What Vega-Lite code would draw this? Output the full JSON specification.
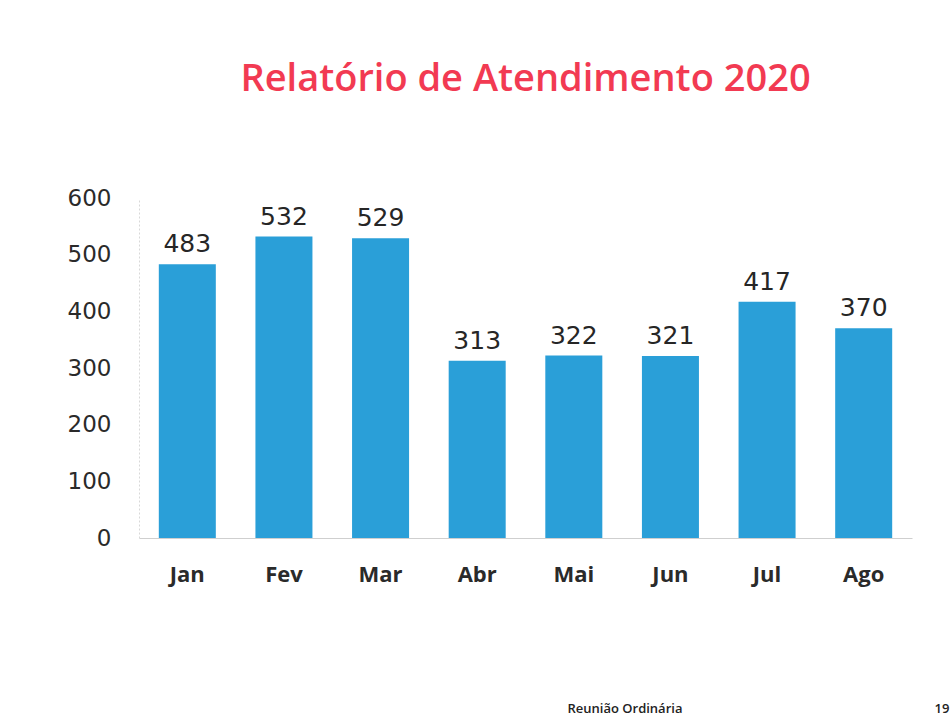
{
  "$schema": "https://vega.github.io/schema/vega-lite/v6.json",
  "autosize": "none",
  "width": 773,
  "height": 340,
  "padding": {"left": 139, "top": 198, "right": 40, "bottom": 188},
  "background": "#ffffff",
  "title": {
    "text": "Relatório de Atendimento 2020",
    "font": "Open Sans",
    "fontSize": 38,
    "fontWeight": 600,
    "color": "#f23a52",
    "anchor": "middle",
    "offset": 88
  },
  "data": {
    "values": [
      {"mes": "Jan", "valor": 483},
      {"mes": "Fev", "valor": 532},
      {"mes": "Mar", "valor": 529},
      {"mes": "Abr", "valor": 313},
      {"mes": "Mai", "valor": 322},
      {"mes": "Jun", "valor": 321},
      {"mes": "Jul", "valor": 417},
      {"mes": "Ago", "valor": 370}
    ]
  },
  "config": {"view": {"stroke": null}},
  "encoding": {
    "x": {
      "field": "mes",
      "type": "nominal",
      "sort": null,
      "scale": {"paddingInner": 0.41, "paddingOuter": 0.205},
      "axis": {
        "title": "Reunião Ordinária",
        "titleFont": "Open Sans",
        "titleFontSize": 13,
        "titleFontWeight": 600,
        "titleColor": "#222222",
        "titleAnchor": "start",
        "titleAlign": "left",
        "titleBaseline": "alphabetic",
        "titleX": 428,
        "titleY": 174,
        "labelAngle": 0,
        "labelFont": "Open Sans",
        "labelFontSize": 22,
        "labelFontWeight": "bold",
        "labelColor": "#2a2a2a",
        "labelPadding": 26,
        "ticks": false,
        "tickSize": 0,
        "domainColor": "#cfcfcf",
        "domainWidth": 1,
        "grid": false
      }
    },
    "y": {
      "field": "valor",
      "type": "quantitative",
      "scale": {"domain": [0, 600], "nice": false},
      "axis": {
        "title": null,
        "values": [0, 100, 200, 300, 400, 500, 600],
        "labelFont": "DejaVu Sans",
        "labelFontSize": 23,
        "labelColor": "#2a2a2a",
        "labelPadding": 28,
        "ticks": false,
        "tickSize": 0,
        "grid": false,
        "domainColor": "#d8d8d8",
        "domainDash": [2, 2],
        "domainWidth": 1
      }
    }
  },
  "layer": [
    {
      "mark": {"type": "bar", "color": "#2a9fd8"}
    },
    {
      "mark": {
        "type": "text",
        "dy": -20,
        "font": "DejaVu Sans",
        "fontSize": 25,
        "color": "#262626",
        "baseline": "middle"
      },
      "encoding": {
        "text": {"field": "valor", "type": "quantitative"},
        "y": {
          "field": "valor",
          "type": "quantitative",
          "axis": {
            "orient": "right",
            "title": "19",
            "titleAngle": 0,
            "titleFont": "Open Sans",
            "titleFontSize": 13,
            "titleFontWeight": 600,
            "titleColor": "#222222",
            "titleAlign": "left",
            "titleBaseline": "alphabetic",
            "titleX": 22,
            "titleY": 514,
            "labels": false,
            "ticks": false,
            "domain": false,
            "grid": false
          }
        }
      }
    }
  ],
  "resolve": {"axis": {"y": "independent"}}
}
